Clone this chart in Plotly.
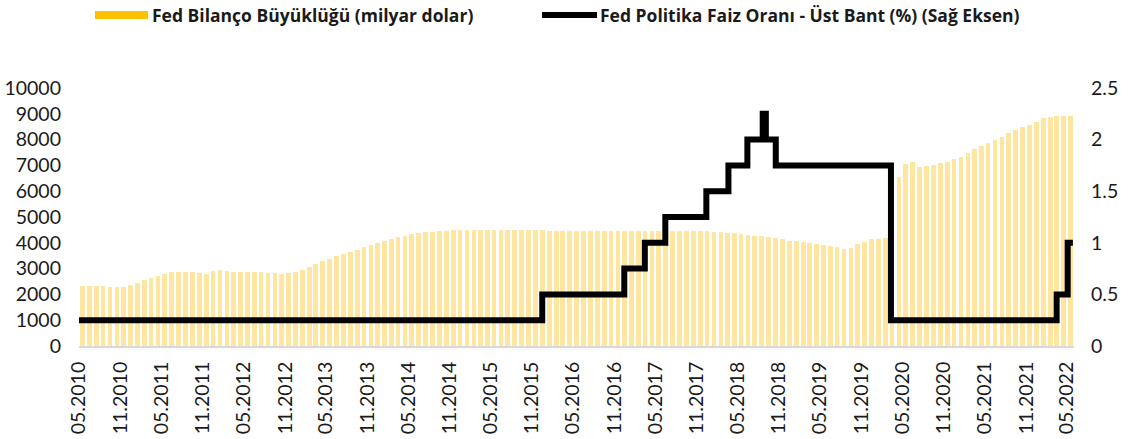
import pandas as pd
import plotly.graph_objects as go

# ---------------- DATA ----------------
# Fed balance sheet, monthly (billion USD), 05.2010 .. 05.2022
bilanco_2010 = [2330, 2330, 2320, 2310, 2290, 2270, 2280, 2380]
bilanco_2011 = [2450, 2540, 2640, 2720, 2790, 2850, 2870, 2860, 2860, 2820, 2800, 2920]
bilanco_2012 = [2930, 2920, 2880, 2860, 2860, 2860, 2850, 2840, 2820, 2810, 2820, 2880]
bilanco_2013 = [2950, 3050, 3170, 3290, 3390, 3470, 3560, 3650, 3720, 3820, 3900, 3990]
bilanco_2014 = [4070, 4150, 4220, 4280, 4330, 4370, 4400, 4420, 4450, 4470, 4480, 4495]
bilanco_2015 = [4490, 4490, 4490, 4490, 4490, 4490, 4490, 4485, 4485, 4480, 4480, 4480]
bilanco_2016 = [4475, 4475, 4470, 4470, 4470, 4465, 4465, 4460, 4460, 4460, 4460, 4460]
bilanco_2017 = [4460, 4460, 4460, 4460, 4465, 4465, 4465, 4465, 4460, 4455, 4445, 4440]
bilanco_2018 = [4420, 4400, 4390, 4370, 4340, 4310, 4280, 4250, 4210, 4170, 4130, 4080]
bilanco_2019 = [4060, 4030, 3990, 3940, 3910, 3870, 3840, 3770, 3780, 3950, 4050, 4130]
bilanco_2020 = [4160, 4170, 5250, 6550, 7050, 7130, 6950, 6980, 7020, 7080, 7140, 7250]
bilanco_2021 = [7340, 7480, 7620, 7750, 7870, 7990, 8120, 8270, 8380, 8480, 8570, 8700]
bilanco_2022 = [8820, 8870, 8910, 8920, 8910]

bilanco = (bilanco_2010 + bilanco_2011 + bilanco_2012 + bilanco_2013 + bilanco_2014
           + bilanco_2015 + bilanco_2016 + bilanco_2017 + bilanco_2018 + bilanco_2019
           + bilanco_2020 + bilanco_2021 + bilanco_2022)
months = pd.date_range("2010-05-01", periods=len(bilanco), freq="MS")

# Fed policy rate upper bound (%), change points as drawn
rate_dates = ["2010-05-01", "2015-12-16", "2016-12-14", "2017-03-15", "2017-06-14",
              "2017-12-13", "2018-03-21", "2018-06-13", "2018-08-20", "2018-09-03",
              "2018-10-17", "2020-03-11", "2022-03-16", "2022-05-04", "2022-05-27"]
rate_values = [0.25, 0.50, 0.75, 1.00, 1.25, 1.50, 1.75, 2.00, 2.25, 2.00,
               1.75, 0.25, 0.50, 1.00, 1.00]

tick_dates = ["2010-05-01", "2010-11-01", "2011-05-01", "2011-11-01", "2012-05-01",
              "2012-11-01", "2013-05-01", "2013-11-01", "2014-05-01", "2014-11-01",
              "2015-05-01", "2015-11-01", "2016-05-01", "2016-11-01", "2017-05-01",
              "2017-11-01", "2018-05-01", "2018-11-01", "2019-05-01", "2019-11-01",
              "2020-05-01", "2020-11-01", "2021-05-01", "2021-11-01", "2022-05-01"]
tick_labels = ["05.2010", "11.2010", "05.2011", "11.2011", "05.2012", "11.2012",
               "05.2013", "11.2013", "05.2014", "11.2014", "05.2015", "11.2015",
               "05.2016", "11.2016", "05.2017", "11.2017", "05.2018", "11.2018",
               "05.2019", "11.2019", "05.2020", "11.2020", "05.2021", "11.2021",
               "05.2022"]

name_bar = "Fed Bilanço Büyüklüğü (milyar dolar)"
name_line = "Fed Politika Faiz Oranı - Üst Bant (%) (Sağ Eksen)"

# ---------------- FIGURE ----------------
W, H = 1131, 439
L, R, T, B = 79, 57, 88, 93
pw = W - L - R
ph = H - T - B

def px_to_paper_x(px):
    return (px - L) / pw

def py_to_paper_y(py):
    return (H - B - py) / ph

FONT = "Lato, 'Open Sans', sans-serif"
LEG_FONT = "'Open Sans', Lato, sans-serif"
TXT = "#1a1a1a"

fig = go.Figure()
fig.add_trace(go.Bar(
    x=months + pd.Timedelta(days=15), y=bilanco, name=name_bar,
    width=21 * 86400000, marker=dict(color="#FFE6A0", line=dict(width=0)),
    showlegend=False, yaxis="y"))
fig.add_trace(go.Scatter(
    x=rate_dates, y=rate_values, name=name_line, mode="lines",
    line=dict(color="#000000", width=6, shape="hv"),
    showlegend=False, yaxis="y2"))

fig.update_layout(
    width=W, height=H,
    margin=dict(l=L, r=R, t=T, b=B, autoexpand=False),
    paper_bgcolor="white", plot_bgcolor="white",
    font=dict(family=FONT, size=19.5, color=TXT),
    bargap=0,
    xaxis=dict(type="date", range=["2010-05-01", "2022-06-01"],
               tickmode="array", tickvals=tick_dates, ticktext=tick_labels,
               tickangle=-90, showgrid=False, zeroline=False,
               showline=True, linecolor="#D9D9D9", linewidth=2,
               ticks="", ticklabelstandoff=6, automargin=False),
    yaxis=dict(range=[0, 10000], dtick=1000, tickformat="d",
               showgrid=False, zeroline=False, showline=False,
               ticks="", ticklabelstandoff=17, automargin=False),
    yaxis2=dict(range=[0, 2.5], dtick=0.5, overlaying="y", side="right",
                showgrid=False, zeroline=False, showline=False,
                ticks="", ticklabelstandoff=16, automargin=False),
)

# custom legend
ly = py_to_paper_y(15)
fig.add_shape(type="rect", xref="paper", yref="paper",
              x0=px_to_paper_x(95), x1=px_to_paper_x(148),
              y0=py_to_paper_y(19), y1=py_to_paper_y(11),
              fillcolor="#FFC000", line=dict(width=0))
fig.add_shape(type="line", xref="paper", yref="paper",
              x0=px_to_paper_x(542), x1=px_to_paper_x(597),
              y0=ly, y1=ly, line=dict(color="#000000", width=6))
fig.add_annotation(text="<b>" + name_bar + "</b>", xref="paper", yref="paper",
                   x=px_to_paper_x(150), y=ly, xanchor="left", yanchor="middle",
                   showarrow=False, font=dict(family=LEG_FONT, size=17.5, color=TXT))
fig.add_annotation(text="<b>" + name_line + "</b>", xref="paper", yref="paper",
                   x=px_to_paper_x(598), y=ly, xanchor="left", yanchor="middle",
                   showarrow=False, font=dict(family=LEG_FONT, size=17.5, color=TXT))

fig.write_html("out.html", config={"displayModeBar": False},
               post_script="document.body.style.margin='0px';")
